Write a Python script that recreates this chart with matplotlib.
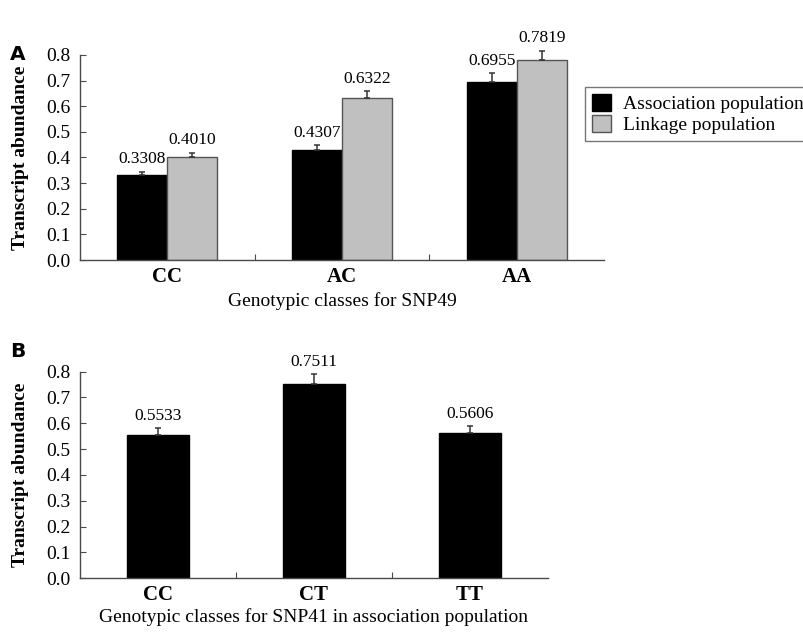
import matplotlib
matplotlib.use("Agg")
import matplotlib.pyplot as plt
import numpy as np

# Panel A: transcript abundance by SNP49 genotype in two populations
genotypes_a = ["CC", "AC", "AA"]
assoc_a = [0.3308, 0.4307, 0.6955]
assoc_a_err = [0.014, 0.018, 0.033]
linkage_a = [0.4010, 0.6322, 0.7819]
linkage_a_err = [0.018, 0.028, 0.035]
series_names = ["Association population", "Linkage population"]

# Panel B: transcript abundance by SNP41 genotype in the association population
genotypes_b = ["CC", "CT", "TT"]
assoc_b = [0.5533, 0.7511, 0.5606]
assoc_b_err = [0.028, 0.040, 0.029]

yticks = [0.0, 0.1, 0.2, 0.3, 0.4, 0.5, 0.6, 0.7, 0.8]

SERIF = "Liberation Serif"
spine_col = "#4a4a4a"

fig = plt.figure(figsize=(8.04, 6.32), dpi=100)
fig.patch.set_facecolor("white")


def style_axes(ax, n):
    ax.set_xlim(-0.5, n - 0.5)
    ax.set_ylim(0, 0.8)
    for s in ("top", "right"):
        ax.spines[s].set_visible(False)
    for s in ("left", "bottom"):
        ax.spines[s].set_color(spine_col)
        ax.spines[s].set_linewidth(1.0)
    ax.set_yticks(yticks)
    ax.set_yticklabels([f"{v:.1f}" for v in yticks], fontfamily=SERIF, fontsize=14)
    ax.tick_params(axis="y", direction="in", length=4, color=spine_col, pad=7)
    # category boundaries carry the x ticks; labels sit at the centers
    ax.set_xticks(np.arange(n - 1) + 0.5)
    ax.set_xticklabels([])
    ax.tick_params(axis="x", which="major", direction="in", length=4, color=spine_col)
    ax.tick_params(axis="x", which="minor", length=0, pad=5)
    ax.set_ylabel("Transcript abundance", fontfamily=SERIF, fontweight="bold",
                  fontsize=14, labelpad=12)


def value_labels(ax, xs, vals, errs, fmt="{:.4f}", size=12.5):
    for x, v, e in zip(xs, vals, errs):
        ax.annotate(fmt.format(v), (x, v + e), xytext=(0, 3), textcoords="offset points",
                    ha="center", va="bottom", fontfamily=SERIF, fontsize=size,
                    annotation_clip=False)


def draw_errors(ax, xs, vals, errs):
    eb = ax.errorbar(xs, vals, yerr=[np.zeros(len(vals)), errs], fmt="none",
                     ecolor="#333333", elinewidth=1.1, capsize=2.5, capthick=1.1)
    for artist in eb.lines[1] + eb.lines[2]:
        artist.set_clip_on(False)


# ---- Panel A ----
axA = fig.add_axes([0.0995, 0.5886, 0.652, 0.3244])
style_axes(axA, len(genotypes_a))
x = np.arange(len(genotypes_a))
w = 0.286
axA.bar(x - w / 2, assoc_a, w, color="black", edgecolor="black", linewidth=1.0,
        label=series_names[0])
axA.bar(x + w / 2, linkage_a, w, color="#c0c0c0", edgecolor="#555555", linewidth=1.0,
        label=series_names[1])
draw_errors(axA, x - w / 2, assoc_a, assoc_a_err)
draw_errors(axA, x + w / 2, linkage_a, linkage_a_err)
value_labels(axA, x - w / 2, assoc_a, assoc_a_err)
value_labels(axA, x + w / 2, linkage_a, linkage_a_err)
axA.set_xticks(x, minor=True)
axA.set_xticklabels(genotypes_a, minor=True, fontfamily=SERIF, fontweight="bold", fontsize=15)
axA.set_xlabel("Genotypic classes for SNP49", fontfamily=SERIF, fontsize=14, labelpad=4)

leg = fig.legend(loc="upper left", bbox_to_anchor=(0.7276, 0.8628), frameon=True,
                 fancybox=False, edgecolor="#555555", prop={"family": SERIF, "size": 14},
                 handlelength=1.0, handleheight=1.0, handletextpad=0.6,
                 borderpad=0.35, labelspacing=0.1, borderaxespad=0)
leg.get_frame().set_linewidth(1.0)

# ---- Panel B ----
axB = fig.add_axes([0.0995, 0.085, 0.582, 0.327])
style_axes(axB, len(genotypes_b))
xb = np.arange(len(genotypes_b))
wb = 0.40
axB.bar(xb, assoc_b, wb, color="black", edgecolor="black", linewidth=1.0)
draw_errors(axB, xb, assoc_b, assoc_b_err)
value_labels(axB, xb, assoc_b, assoc_b_err)
axB.set_xticks(xb, minor=True)
axB.set_xticklabels(genotypes_b, minor=True, fontfamily=SERIF, fontweight="bold", fontsize=15)
axB.set_xlabel("Genotypic classes for SNP41 in association population",
               fontfamily=SERIF, fontsize=14, labelpad=2)

# panel letters
fig.text(0.012, 0.905, "A", fontsize=14.5, fontweight="bold", family="DejaVu Sans")
fig.text(0.012, 0.435, "B", fontsize=14.5, fontweight="bold", family="DejaVu Sans")

fig.savefig("out.png", dpi=100, facecolor="white")
